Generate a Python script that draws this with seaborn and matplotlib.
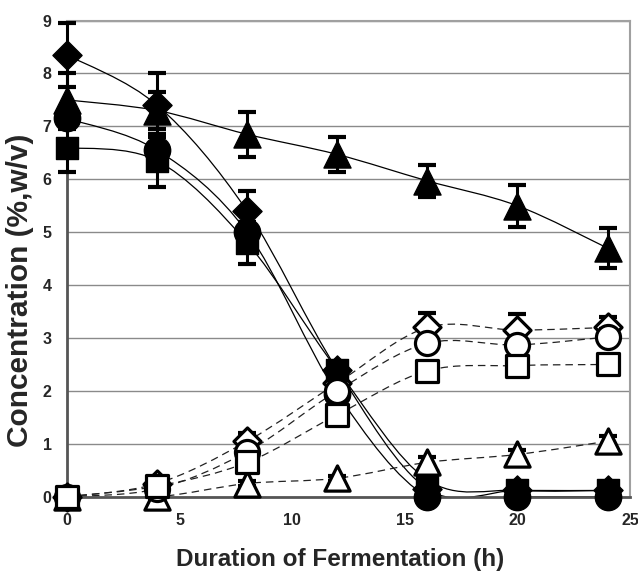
import numpy as np
import pandas as pd
import seaborn as sns
import matplotlib
matplotlib.use("Agg")
import matplotlib.pyplot as plt
from matplotlib.path import Path
from matplotlib.patches import PathPatch
from matplotlib.ticker import MultipleLocator

# fermentation time (h)
hours = [0, 4, 8, 12, 16, 20, 24]

# filled symbols (solid lines)
diamond_f = [8.35, 7.40, 5.40, 2.40, 0.15, 0.12, 0.12]
triangle_f = [7.50, 7.30, 6.85, 6.47, 5.97, 5.50, 4.70]
square_f = [6.60, 6.35, 4.80, 2.40, 0.32, 0.12, 0.12]
circle_f = [7.15, 6.55, 5.00, 1.95, 0.00, 0.00, 0.00]

diamond_f_err = [0.60, 0.60, 0.38, 0.10, 0.05, 0.05, 0.05]
triangle_f_err = [0.50, 0.35, 0.42, 0.33, 0.30, 0.40, 0.38]
square_f_err = [0.47, 0.50, 0.40, 0.10, 0.05, 0.05, 0.05]
circle_f_err = [0.20, 0.30, 0.20, 0.10, 0.05, 0.05, 0.05]

# open symbols (dashed lines)
diamond_o = [0.00, 0.25, 1.05, 2.15, 3.20, 3.15, 3.20]
circle_o = [0.00, 0.15, 0.85, 2.00, 2.90, 2.87, 3.02]
square_o = [0.00, 0.20, 0.65, 1.55, 2.38, 2.48, 2.50]
triangle_o = [0.00, 0.00, 0.25, 0.35, 0.65, 0.80, 1.05]

diamond_o_err = [0.05, 0.10, 0.15, 0.10, 0.28, 0.30, 0.20]
circle_o_err = [0.05, 0.05, 0.10, 0.10, 0.15, 0.15, 0.15]
square_o_err = [0.05, 0.05, 0.10, 0.10, 0.12, 0.10, 0.10]
triangle_o_err = [0.02, 0.05, 0.05, 0.05, 0.10, 0.08, 0.10]

sns.set_style("white")
plt.rcParams["font.family"] = ["Liberation Sans", "DejaVu Sans"]
plt.rcParams["font.weight"] = "bold"


def smooth_path(x, y):
    # excel-like smoothed line as bezier segments through the data points
    pts = np.column_stack([x, y]).astype(float)
    n = len(pts)
    verts = [pts[0]]
    codes = [Path.MOVETO]
    for i in range(n - 1):
        p0 = pts[max(i - 1, 0)]
        p1 = pts[i]
        p2 = pts[i + 1]
        p3 = pts[min(i + 2, n - 1)]
        verts += [p1 + (p2 - p0) / 6, p2 - (p3 - p1) / 6, p2]
        codes += [Path.CURVE4] * 3
    return Path(verts, codes)


fig = plt.figure(figsize=(6.38, 5.71), dpi=100)
ax = fig.add_axes([0.105, 0.13, 0.8825, 0.834])

filled = [
    ("D", diamond_f, diamond_f_err, 220),
    ("^", triangle_f, triangle_f_err, 380),
    ("s", square_f, square_f_err, 260),
    ("o", circle_f, circle_f_err, 360),
]
opened = {
    "diamond": ("D", diamond_o, diamond_o_err, 190),
    "triangle": ("^", triangle_o, triangle_o_err, 330),
    "circle": ("o", circle_o, circle_o_err, 300),
    "square": ("s", square_o, square_o_err, 240),
}

for mk, vals, err, size in filled:
    ax.add_patch(PathPatch(smooth_path(hours, vals), fill=False, ec="black", lw=0.9, zorder=2))
for mk, vals, err, size in opened.values():
    ax.add_patch(PathPatch(smooth_path(hours, vals), fill=False, ec="#222222", lw=0.9,
                           ls=(0, (6, 4)), zorder=2))

z = 3
# open diamonds sit underneath the filled symbols, the rest on top
order = [("o", opened["diamond"])] + [("f", s) for s in filled] + \
        [("o", opened[k]) for k in ["triangle", "circle", "square"]]
for kind, (mk, vals, err, size) in order:
    ax.errorbar(hours, vals, yerr=err, fmt="none", ecolor="black", elinewidth=2.2,
                capsize=6.5, capthick=3, zorder=z, clip_on=False)
    if kind == "f":
        sns.scatterplot(x=hours, y=vals, marker=mk, s=size, color="black",
                        edgecolor="black", linewidth=1, ax=ax, zorder=z + 0.5, clip_on=False)
    else:
        sns.scatterplot(x=hours, y=vals, marker=mk, s=size, color="white",
                        edgecolor="black", linewidth=2.3, ax=ax, zorder=z + 0.5, clip_on=False)
    z += 1

ax.set_xlim(0, 25)
ax.set_ylim(0, 9)
ax.xaxis.set_major_locator(MultipleLocator(5))
ax.xaxis.set_minor_locator(MultipleLocator(1))
ax.yaxis.set_major_locator(MultipleLocator(1))
ax.yaxis.set_minor_locator(MultipleLocator(0.5))
ax.grid(axis="y", which="major", color="#8a8a8a", lw=1)
ax.set_axisbelow(True)

for side in ["left", "bottom"]:
    ax.spines[side].set_color("#555555")
    ax.spines[side].set_linewidth(2)
for side in ["top", "right"]:
    ax.spines[side].set_color("#a0a0a0")
    ax.spines[side].set_linewidth(1.5)

ax.tick_params(axis="x", which="major", direction="inout", length=8, width=1.5,
               color="#555555", labelsize=11.5, pad=8)
ax.tick_params(axis="x", which="minor", direction="in", length=4, width=1.2, color="#555555")
ax.tick_params(axis="y", which="major", direction="out", length=5, width=1.5,
               color="#555555", labelsize=11.5, pad=6)
ax.tick_params(axis="y", which="minor", direction="out", length=4, width=1.2, color="#555555")
for lab in ax.get_xticklabels() + ax.get_yticklabels():
    lab.set_fontweight("bold")

ax.set_xlabel("Duration of Fermentation (h)", fontsize=17.5, fontweight="bold")
ax.set_ylabel("Concentration (%,w/v)", fontsize=21.5, fontweight="bold")
ax.xaxis.set_label_coords(0.485, -0.107)
ax.yaxis.set_label_coords(-0.058, 0.434)

fig.savefig("out.png", dpi=100)
